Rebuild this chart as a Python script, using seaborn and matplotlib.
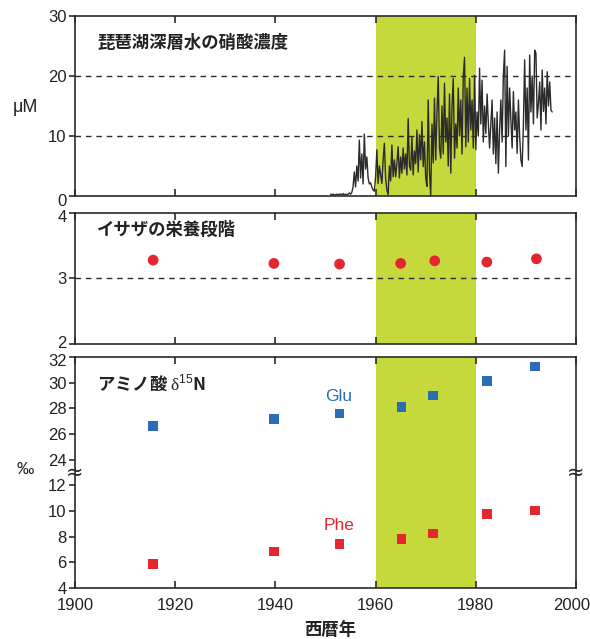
"""
琵琶湖: 深層水の硝酸濃度 / イサザの栄養段階 / アミノ酸 δ15N
Run:
    python plot.py
"""

import numpy as np
import pandas as pd
import matplotlib
matplotlib.use("Agg")
import matplotlib.pyplot as plt
import matplotlib.transforms as mtransforms
import seaborn as sns

# ─────────────────────────────────────────────
#  DATA
# ─────────────────────────────────────────────

# nitrate in deep water, quarterly from 1951.0
nitrate_start = 1951.0
nitrate_step = 0.25
nitrate_uM = [
    0.3, 0.2, 0.3, 0.2,     # 1951
    0.2, 0.3, 0.2, 0.3,     # 1952
    0.3, 0.2, 0.4, 0.2,     # 1953
    0.3, 0.2, 0.3, 0.5,     # 1954
    0.3, 0.6, 1.5, 4.0,     # 1955
    1.5, 5.0, 2.5, 9.3,     # 1956
    3.0, 7.0, 2.0, 10.3,    # 1957
    4.5, 6.5, 3.0, 2.0,     # 1958
    2.2, 1.5, 1.0, 0.8,     # 1959
    3.2, 7.7, 2.1, 5.0,     # 1960
    3.5, 2.1, 6.0, 8.8,     # 1961
    3.0, 1.0, 0.2, 5.0,     # 1962
    2.5, 8.5, 3.2, 6.0,     # 1963
    3.2, 5.5, 8.2, 3.0,     # 1964
    6.5, 3.8, 8.0, 4.5,     # 1965
    7.0, 3.5, 12.9, 5.0,    # 1966
    4.3, 9.9, 3.5, 7.5,     # 1967
    5.4, 11.0, 4.0, 10.2,   # 1968
    6.0, 12.4, 4.9, 9.0,    # 1969
    3.0, 1.6, 16.0, 4.0,    # 1970
    0.0, 12.0, 5.5, 16.3,   # 1971
    6.0, 14.0, 19.9, 8.0,   # 1972
    6.3, 15.0, 7.0, 18.8,   # 1973
    9.0, 13.0, 5.0, 17.0,   # 1974
    3.8, 15.0, 19.6, 6.3,   # 1975
    12.0, 8.0, 18.0, 10.0,  # 1976
    16.0, 7.0, 20.0, 23.1,  # 1977
    8.2, 18.0, 9.0, 19.6,   # 1978
    11.0, 16.0, 8.0, 20.1,  # 1979
    7.7, 14.0, 10.0, 21.3,  # 1980
    12.0, 19.3, 9.0, 15.0,  # 1981
    10.4, 17.0, 12.1, 8.0,  # 1982
    12.1, 16.0, 7.0, 13.0,  # 1983
    5.4, 14.0, 3.8, 11.0,   # 1984
    16.0, 9.0, 20.0, 24.3,  # 1985
    4.9, 21.6, 10.0, 18.0,  # 1986
    12.7, 8.0, 17.4, 11.0,  # 1987
    14.0, 7.1, 16.0, 10.0,  # 1988
    6.0, 4.9, 12.0, 22.7,   # 1989
    11.0, 18.0, 6.0, 23.5,  # 1990
    14.0, 20.0, 12.0, 24.3, # 1991
    23.8, 13.0, 15.4, 19.0, # 1992
    11.0, 21.0, 14.1, 18.0, # 1993
    12.0, 20.7, 15.0, 19.0, # 1994
    14.3, 14.0,             # 1995
]

# trophic level of isaza
isaza_year = [1915.6, 1939.7, 1952.8, 1965.0, 1971.8, 1982.2, 1992.1]
isaza_tl = [3.28, 3.23, 3.22, 3.23, 3.27, 3.25, 3.30]

# amino acid δ15N (‰)
aa_year = [1915.6, 1939.7, 1952.8, 1965.2, 1971.5, 1982.2, 1991.8]
glu_d15n = [26.6, 27.15, 27.6, 28.1, 29.0, 30.15, 31.25]
phe_d15n = [5.85, 6.85, 7.45, 7.8, 8.25, 9.75, 10.05]

aa_ticklabels = [4, 6, 8, 10, 12, 24, 26, 28, 30, 32]
event_span = (1960, 1980)

GREEN = "#c6d93c"
RED = "#e3262f"
BLUE = "#2a6db5"
INK = "#2b2b2b"
CJK = ["Noto Sans CJK JP", "DejaVu Sans"]


def broken(v):
    """Glu values (>=24) shifted down so 24 sits one step above 12."""
    v = np.asarray(v, dtype=float)
    return np.where(v > 18, v - 10, v)


def nudge(label, dx_px, dy_px):
    """Shift one tick label by a few pixels."""
    off = mtransforms.ScaledTranslation(dx_px / 100, dy_px / 100,
                                        fig.dpi_scale_trans)
    label.set_transform(label.get_transform() + off)


# ─────────────────────────────────────────────
#  STYLE
# ─────────────────────────────────────────────

sns.set_theme(style="ticks")
plt.rcParams["font.family"] = ["Liberation Sans", "Noto Sans CJK JP", "DejaVu Sans"]
plt.rcParams.update({
    "axes.edgecolor": INK,
    "axes.linewidth": 1.2,
    "xtick.color": INK,
    "ytick.color": INK,
    "xtick.labelcolor": "#222222",
    "ytick.labelcolor": "#222222",
    "xtick.labelsize": 12,
    "ytick.labelsize": 12,
    "mathtext.fontset": "custom",
    "mathtext.rm": "Liberation Serif",
    "mathtext.sf": "Liberation Sans",
})

fig = plt.figure(figsize=(5.9, 6.39), dpi=100)
ax1 = fig.add_axes([0.1271, 0.6933, 0.8492, 0.2817])
ax2 = fig.add_axes([0.1271, 0.4617, 0.8492, 0.2050])
ax3 = fig.add_axes([0.1271, 0.0798, 0.8492, 0.3615])

for ax in (ax1, ax2, ax3):
    ax.axvspan(*event_span, color=GREEN, lw=0, zorder=0)
    ax.set_xlim(1900, 2000)
    ax.set_xticks(np.arange(1900, 2001, 20))
    ax.tick_params(axis="x", direction="in", top=True, bottom=True,
                   length=5, width=1.2, pad=7)
    ax.tick_params(axis="y", direction="out", length=4, width=1.2, pad=2)
    for s in ax.spines.values():
        s.set_visible(True)
        s.set_zorder(5)

ax1.tick_params(axis="x", labelbottom=False)
ax2.tick_params(axis="x", labelbottom=False)

dash = dict(color=INK, lw=1.0, ls=(0, (4, 3.5)), zorder=1)

# ── 硝酸濃度 ─────────────────────────────
nitrate_year = nitrate_start + nitrate_step * np.arange(len(nitrate_uM))
nit = pd.DataFrame({"year": nitrate_year, "uM": nitrate_uM})
for lv in (10, 20):
    ax1.axhline(lv, **dash)
sns.lineplot(data=nit, x="year", y="uM", ax=ax1, color=INK, lw=1.0,
             estimator=None, zorder=3)
ax1.set_ylim(0, 30)
ax1.set_yticks([0, 10, 20, 30])
ax1.set_xlabel("")
ax1.set_ylabel("")
ax1.text(0.044, 0.85, "琵琶湖深層水の硝酸濃度", transform=ax1.transAxes,
         family=CJK, fontsize=12.5, fontweight="bold", color="#222222",
         va="center", ha="left")

# ── 栄養段階 ─────────────────────────────
ax2.axhline(3, **dash)
sns.scatterplot(x=isaza_year, y=isaza_tl, ax=ax2, color=RED, s=60,
                edgecolor="none", zorder=4)
ax2.set_ylim(2, 4)
ax2.set_yticks([2, 3, 4])
ax2.text(0.044, 0.87, "イサザの栄養段階", transform=ax2.transAxes,
         family=CJK, fontsize=12.5, fontweight="bold", color="#222222",
         va="center", ha="left")

# ── アミノ酸 δ15N ────────────────────────
aa = pd.DataFrame({"year": aa_year, "Glu": broken(glu_d15n), "Phe": phe_d15n})
sns.scatterplot(data=aa, x="year", y="Glu", ax=ax3, color=BLUE, marker="s",
                s=48, edgecolor="none", zorder=4)
sns.scatterplot(data=aa, x="year", y="Phe", ax=ax3, color=RED, marker="s",
                s=48, edgecolor="none", zorder=4)
ax3.set_ylim(4, 22)
ax3.set_yticks(broken(aa_ticklabels))
ax3.set_yticklabels([str(t) for t in aa_ticklabels])
ax3.set_xlabel("")
ax3.set_ylabel("")
ax3.text(1952.7, float(broken(28.9)), "Glu", color=BLUE, fontsize=12.5,
         ha="center", va="center")
ax3.text(1952.7, 8.9, "Phe", color=RED, fontsize=12.5,
         ha="center", va="center")
ax3.text(0.044, 0.887, "アミノ酸 $\\mathrm{\\delta}^{\\mathsf{15}}$N",
         transform=ax3.transAxes, family=CJK, fontsize=12.5,
         fontweight="bold", color="#222222", va="center", ha="left")

# axis break marks between 12 and 24
for xf in (0.0, 1.0):
    ax3.text(xf, 13, "≈", transform=ax3.get_yaxis_transform(),
             fontsize=15, ha="center", va="center", color=INK,
             family=["DejaVu Sans"], zorder=6, clip_on=False)

# edge tick labels sit a little inside, as in the original
nudge(ax1.get_yticklabels()[0], 0, -4)
nudge(ax2.get_yticklabels()[0], 0, 2)
nudge(ax2.get_yticklabels()[-1], 0, -3)
nudge(ax3.get_yticklabels()[-1], 0, -3)
nudge(ax3.get_xticklabels()[-1], -4, 0)

# ── labels ───────────────────────────────
fig.text(25 / 590, 1 - 107 / 639, "μM", fontsize=13, ha="center",
         va="center", color="#222222")
fig.text(25 / 590, 1 - 470 / 639, "‰", fontsize=12.5, ha="center",
         va="center", color="#222222")
fig.text(330 / 590, 1 - 630 / 639, "西暦年", family=CJK, fontsize=12.5,
         fontweight="bold", ha="center", va="center", color="#222222")

fig.savefig("out.png", dpi=100, facecolor="white")
plt.close(fig)
